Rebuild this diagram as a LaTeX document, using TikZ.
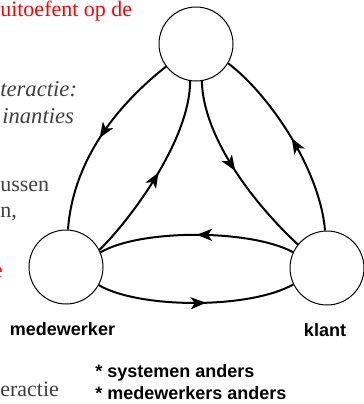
\documentclass[tikz,border=0pt]{standalone}
\usepackage{fontspec}
\setmainfont{Liberation Serif}
\newfontfamily\helv{Liberation Sans}
\usetikzlibrary{arrows.meta,decorations.markings}
\definecolor{slidegray}{gray}{0.25}
\begin{document}
\begin{tikzpicture}[x=0.75pt,y=-0.75pt,
  ent/.style={circle,draw,line width=0.75pt,minimum size=55.5pt,inner sep=0pt},
  flow/.style={line width=1.5pt},
  midarrow/.style={postaction={decorate},decoration={markings,mark=at position #1 with {\arrow{Stealth[length=11.5pt,width=9pt,inset=3pt]}}}},
  lbl/.style={font=\helv\bfseries\fontsize{13.5pt}{16pt}\selectfont, inner sep=0pt},
  slide/.style={font=\fontsize{16.5pt}{20pt}\selectfont, inner sep=0pt, anchor=base west},
  slideit/.style={font=\fontsize{17pt}{20pt}\selectfont\itshape, inner sep=0pt, anchor=base west},
]
\useasboundingbox (0,0) rectangle (364,404);
\node[ent] (T) at (196,44) {};
\node[ent] (L) at (66,267) {};
\node[ent] (R) at (327,268) {};

\draw[flow,midarrow=0.5] (T.217) .. controls (130,95) and (74,150) .. (L.87);
\draw[flow,midarrow=0.5] (L.27) .. controls (130,220) and (190,140) .. (T.261);
\draw[flow,midarrow=0.5] (T.279) .. controls (203,135) and (250,200) .. (R.141);
\draw[flow,midarrow=0.5] (R.93) .. controls (320,170) and (270,95) .. (T.329);
\draw[flow,midarrow=0.5] (R.155) .. controls (250,229) and (140,229) .. (L.23);
\draw[flow,midarrow=0.55] (L.-29) .. controls (140,309) and (250,309) .. (R.206);

\node[slide, text=red] (t1) at (0,16) {uitoefent op de};
\node[slideit, text=slidegray] (t2) at (0,96) {teractie:};
\node[slideit, text=slidegray] (t3) at (2,123) {inanties};
\node[slide, text=slidegray] (t4) at (0,191) {ussen};
\node[slide, text=slidegray] (t5) at (0,217) {n,};
\node[slide, text=red, anchor=base east] (t6) at (3,277) {e};
\node[slide, text=slidegray] (t7) at (0,396) {eractie};

\node[lbl, anchor=base] (lm) at (62.5,335) {medewerker};
\node[lbl, anchor=base] (lk) at (325,336) {klant};
\node[lbl, anchor=base west] (n1) at (95,377) {* systemen anders};
\node[lbl, anchor=base west] (n2) at (95,399) {* medewerkers anders};
\end{tikzpicture}
\end{document}
